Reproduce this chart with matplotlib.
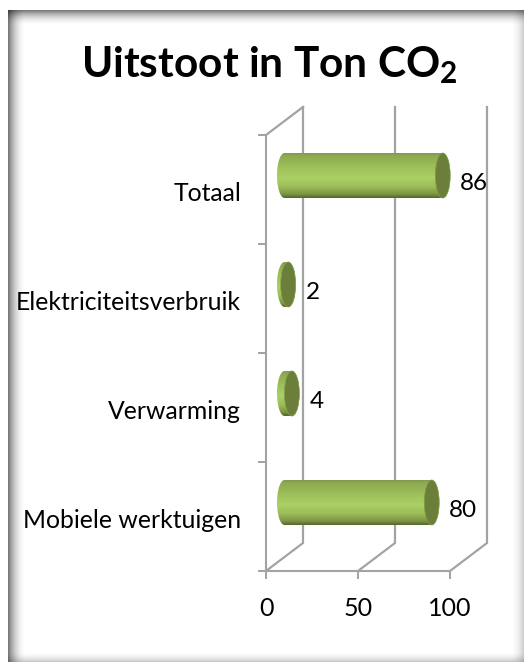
import numpy as np
import matplotlib
matplotlib.use("Agg")
import matplotlib.pyplot as plt
from matplotlib.path import Path
from matplotlib.patches import Ellipse
from matplotlib.colors import LinearSegmentedColormap
from matplotlib.transforms import ScaledTranslation

# ----------------------- data -----------------------
categories = ["Mobiele werktuigen", "Verwarming", "Elektriciteitsverbruik", "Totaal"]
values = [80, 4, 2, 86]
xticks = [0, 50, 100]
title = r"Uitstoot in Ton CO$_{\mathbf{2}}$"

plt.rcParams["font.family"] = ["Lato", "DejaVu Sans"]
plt.rcParams["mathtext.fontset"] = "custom"
plt.rcParams["mathtext.bf"] = "Lato:bold"
plt.rcParams["mathtext.rm"] = "Lato:bold"

W, H = 524, 662
GRID = "#a3a3a3"
PX_X = 184 / 100   # pixels per x unit
PX_Y = 109         # pixels per category

fig = plt.figure(figsize=(W / 100, H / 100), dpi=100, facecolor="white")

# ------------------ frame with inner shadow ------------------
bg = fig.add_axes([0, 0, 1, 1], zorder=0)
bg.set_axis_off()
xx, yy = np.meshgrid(np.arange(W) + 0.5, np.arange(H) + 0.5)
L, T, R, B = 8, 10, 524, 662
shade = np.ones((H, W))
for dist, strength, reach in [(xx - L, 0.55, 18), (yy - T, 0.55, 16), (R - xx, 0.2, 14), (B - yy, 0.22, 11)]:
    shade *= 1 - strength * np.clip(1 - dist / reach, 0, 1) ** 2
inside = (xx > L) & (xx < R) & (yy > T) & (yy < B)
shade[~inside] = 1
bg.imshow(shade, cmap="gray", vmin=0, vmax=1, aspect="auto", extent=(0, W, H, 0), interpolation="bilinear")

# ------------------ main axes (front plane) ------------------
ax = fig.add_axes([266 / W, (H - 571) / H, 184 / W, 436 / H], zorder=1)
ax.patch.set_alpha(0)
ax.set_xlim(0, 100)
ax.set_ylim(0, len(categories))
for s in ["top", "right"]:
    ax.spines[s].set_visible(False)
for s in ["left", "bottom"]:
    ax.spines[s].set_color(GRID)
    ax.spines[s].set_linewidth(1.5)

ax.set_xticks(xticks)
ax.set_yticks(range(len(categories) + 1))
ax.set_yticklabels([])
ax.set_yticks(np.arange(len(categories)) + 0.5, minor=True)
ax.set_yticklabels(categories, minor=True, fontsize=17.8)
ax.tick_params(axis="y", which="minor", length=0, pad=18)
ax.tick_params(axis="y", which="major", length=6, width=1.4, color=GRID)
ax.tick_params(axis="x", length=6, width=1.4, color=GRID, labelsize=18, pad=13)

# category labels sit a little under the tick centre
shift = ScaledTranslation(0, -2 / 100, fig.dpi_scale_trans)
for lab in ax.get_yticklabels(minor=True):
    lab.set_transform(lab.get_transform() + shift)

# depth of the fake 3d floor, in data units
back_x, back_y = 37 / PX_X, 28 / PX_Y
for v in xticks:
    ax.plot([v, v + back_x, v + back_x], [0, back_y, len(categories) + back_y],
            color=GRID, lw=1.6, clip_on=False, zorder=1, solid_joinstyle="miter")
ax.plot([0, back_x], [len(categories), len(categories) + back_y],
        color=GRID, lw=1.6, clip_on=False, zorder=1)

# ------------------ cylinders ------------------
cyl = LinearSegmentedColormap.from_list("cyl", [
    (0.0, "#85994f"), (0.06, "#8dab4f"), (0.35, "#a0c25c"), (0.55, "#abd065"),
    (0.75, "#9dbd59"), (0.92, "#7c9444"), (1.0, "#56692d")])
grad = np.linspace(0, 1, 64).reshape(-1, 1)

rx, ry = 7.5 / PX_X, 22.5 / PX_Y
off_x, off_y = 18.5 / PX_X, 14 / PX_Y
t = np.linspace(np.pi / 2, 3 * np.pi / 2, 40)

for i, v in enumerate(values):
    x0, x1 = off_x, off_x + v
    yc = i + 0.5 + off_y
    # outline: left half of the near end, then the far end
    px = np.r_[x0 + rx * np.cos(t), x1 - rx * np.cos(t)]
    py = np.r_[yc + ry * np.sin(t), yc - ry * np.sin(t)]
    clip = Path(np.c_[px, py])
    im = ax.imshow(grad, cmap=cyl, vmin=0, vmax=1, aspect="auto", zorder=3,
                   extent=(x0 - rx, x1 + rx, yc - ry, yc + ry), interpolation="bilinear")
    im.set_clip_path(clip, transform=ax.transData)
    ax.add_patch(Ellipse((x1, yc), 2 * rx, 2 * ry, facecolor="#6b7f3b",
                         edgecolor="#84a04c", lw=0.5, zorder=4, clip_on=False))
    ax.annotate(str(v), (x1, yc), xytext=(12.5, -6), textcoords="offset points",
                ha="left", va="center", fontsize=17.5, color="black", zorder=5,
                annotation_clip=False)

ax.set_xlim(0, 100)
ax.set_ylim(0, len(categories))

fig.text(269.5 / W, 1 - 65 / H, title, ha="center", va="center", fontsize=30.5,
         fontweight="bold", color="black", zorder=6)

fig.savefig("out.png", dpi=100)
